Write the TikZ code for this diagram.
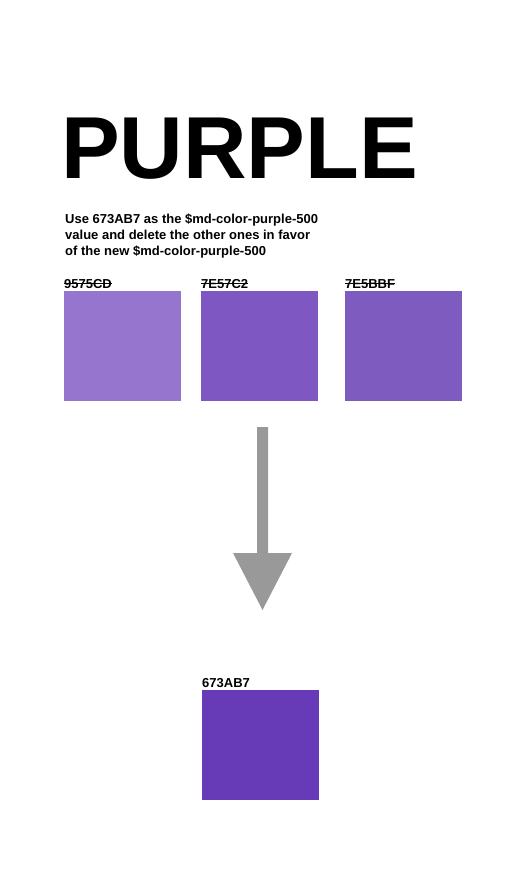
\documentclass[tikz,border=0pt]{standalone}
\usepackage{fontspec}
\setmainfont{Liberation Sans}
\definecolor{swatchA}{HTML}{9575CD}
\definecolor{swatchB}{HTML}{7E57C2}
\definecolor{swatchC}{HTML}{7E5BBF}
\definecolor{swatchNew}{HTML}{673AB7}
\definecolor{arrowgray}{HTML}{999999}
\tikzset{
  swatch/.style={anchor=north west, minimum width=117pt, minimum height=110pt, inner sep=0pt, outer sep=0pt},
  hexlabel/.style={anchor=base west, inner sep=0pt, font=\fontsize{13}{15}\selectfont\bfseries},
  strike/.style={line width=0.9pt, black}
}
\begin{document}
\begin{tikzpicture}[x=1pt,y=-1pt]
\useasboundingbox (0,0) rectangle (508,872);

\node[anchor=base west, inner sep=0pt, font=\fontsize{88}{88}\selectfont\bfseries](title) at (61,178) {PURPLE};

% base of a multi-line node is its last line
\node[anchor=base west, inner sep=0pt, align=left, font=\fontsize{13}{16}\selectfont\bfseries](note) at (65,255)
  {Use 673AB7 as the \$md-color-purple-500\\ value and delete the other ones in favor\\ of the new \$md-color-purple-500};

% old swatches
\node[swatch, fill=swatchA](oldA) at (64,291) {};
\node[swatch, fill=swatchB](oldB) at (201,291) {};
\node[swatch, fill=swatchC](oldC) at (345,291) {};

\node[hexlabel](labA) at (64,288) {9575CD};
\node[hexlabel](labB) at (201,288) {7E57C2};
\node[hexlabel](labC) at (345,288) {7E5BBF};
\draw[strike](labA.west)--(labA.east);
\draw[strike](labB.west)--(labB.east);
\draw[strike](labC.west)--(labC.east);

% arrow
\fill[arrowgray](257,427)--(268,427)--(268,553)--(292,553)--(262.5,610)--(233,553)--(257,553)--cycle;

% new swatch
\node[swatch, fill=swatchNew](new) at (202,690) {};
\node[hexlabel](labNew) at (202,687) {673AB7};

\end{tikzpicture}
\end{document}
